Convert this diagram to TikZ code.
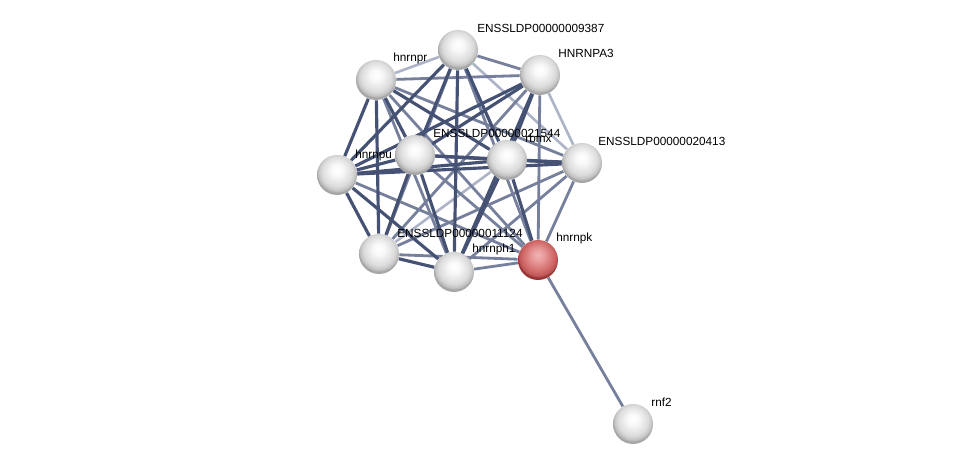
\documentclass[tikz,border=0pt]{standalone}
\usepackage{fontspec}
\setmainfont{Liberation Sans}
\usepackage{tikz}
\usetikzlibrary{backgrounds}
\usepackage{xcolor}
\definecolor{edgedark}{HTML}{465274}
\definecolor{edgemid}{HTML}{76809C}
\definecolor{edgelight}{HTML}{ADB4C8}
\definecolor{qlight}{HTML}{F2B4B4}
\definecolor{qmid}{HTML}{D26A6A}
\definecolor{qrim}{HTML}{9A3434}
\pgfdeclareradialshading{pball}{\pgfpoint{0bp}{7bp}}{color(0bp)=(white); color(7bp)=(white!95!gray); color(19bp)=(gray!28); color(24bp)=(gray!50); color(25bp)=(gray!70); color(50bp)=(gray!70)}
\pgfdeclareradialshading{qball}{\pgfpoint{0bp}{7bp}}{color(0bp)=(qlight); color(7bp)=(qlight!70!qmid); color(19bp)=(qmid); color(24bp)=(qmid!60!qrim); color(25bp)=(qrim); color(50bp)=(qrim)}

\begin{document}
\begin{tikzpicture}[
  x=0.02cm, y=-0.02cm,
  protein/.style={circle, minimum size=0.8cm, inner sep=0pt, shading=pball},
  query/.style={circle, minimum size=0.8cm, inner sep=0pt, shading=qball},
  plabel/.style={anchor=west, inner sep=0pt, font=\fontsize{6.7}{8}\selectfont},
  strong/.style={draw=edgedark, line width=1.8pt},
  medium/.style={draw=edgemid, line width=1.6pt},
  weak/.style={draw=edgelight, line width=1.5pt}
]
\useasboundingbox (0,0) rectangle (975,469);

% Proteins (pixel positions)
\node[protein] (a) at (458,50) {};
\node[protein] (r) at (376,80) {};
\node[protein] (h) at (540,75) {};
\node[protein] (u) at (337,175) {};
\node[protein] (e) at (415,155) {};
\node[protein] (x) at (507,160) {};
\node[protein] (f) at (582,163) {};
\node[protein] (b) at (379,254) {};
\node[protein] (p) at (454,272) {};
\node[query]   (k) at (538,260) {};
\node[protein] (n) at (633,424) {};

% Labels
\node[plabel] (a-l) at (477,28) {ENSSLDP00000009387};
\node[plabel] (r-l) at (393,58) {hnrnpr};
\node[plabel] (h-l) at (558,53) {HNRNPA3};
\node[plabel] (u-l) at (355,155) {hnrnpu};
\node[plabel] (e-l) at (433,133) {ENSSLDP00000021544};
\node[plabel] (x-l) at (525,138) {rbmx};
\node[plabel] (f-l) at (598,141) {ENSSLDP00000020413};
\node[plabel] (b-l) at (397,233) {ENSSLDP00000011124};
\node[plabel] (p-l) at (472,249) {hnrnph1};
\node[plabel] (k-l) at (556,238) {hnrnpk};
\node[plabel] (n-l) at (651,402) {rnf2};

% Interactions
\begin{scope}[on background layer]
\foreach \s/\t in {a/r, a/f, h/f, x/b}{\draw[weak] (\s) -- (\t);}
\foreach \s/\t in {a/h, a/b, a/k, r/h, r/f, r/p, r/k, h/b, h/k, u/k, e/k, f/b, f/p, f/k, b/k, p/k, k/n}{\draw[medium] (\s) -- (\t);}
\foreach \s/\t in {a/u, a/e, a/x, a/p, r/u, r/e, r/x, r/b, h/u, h/e, h/x, h/p, u/e, u/x, u/f, u/b, u/p, e/x, e/f, e/b, e/p, x/f, x/p, x/k, b/p}{\draw[strong] (\s) -- (\t);}
\end{scope}
\end{tikzpicture}
\end{document}
